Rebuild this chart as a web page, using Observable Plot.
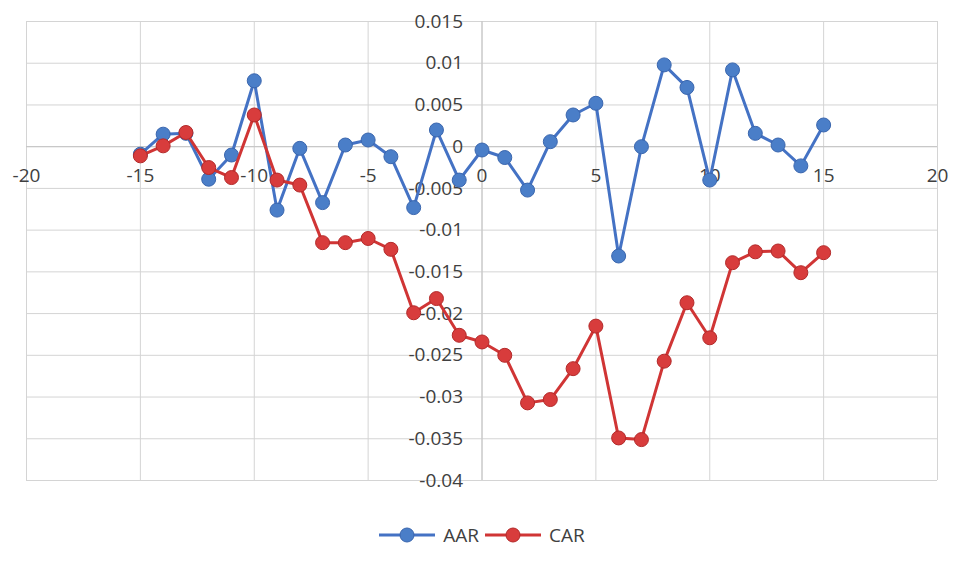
<!DOCTYPE html>
<html><head><meta charset="utf-8">
<script src="https://cdn.jsdelivr.net/npm/d3@7"></script>
<script src="https://cdn.jsdelivr.net/npm/@observablehq/plot@0.6"></script>
<style>
body{margin:0;background:#fff;font-family:"Open Sans",sans-serif;}
#chart svg{display:block;}
#legend{display:flex;justify-content:center;align-items:center;height:60px;font-size:19px;color:#404040;}
.item{display:flex;align-items:center;margin:0 3px;}
.item svg{margin-right:8px;}
</style></head><body>
<div id="chart"></div>
<div id="legend"></div>
<script>
const days = [-15,-14,-13,-12,-11,-10,-9,-8,-7,-6,-5,-4,-3,-2,-1,0,1,2,3,4,5,6,7,8,9,10,11,12,13,14,15];
const aar = [-0.0009,0.0015,0.0016,-0.0039,-0.0010,0.0079,-0.0076,-0.0002,-0.0067,0.0002,0.0008,-0.0012,-0.0073,0.0020,-0.0040,-0.0004,-0.0013,-0.0052,0.0006,0.0038,0.0052,-0.0131,0.0000,0.0098,0.0071,-0.0040,0.0092,0.0016,0.0002,-0.0023,0.0026];
const car = [-0.0011,0.0001,0.0017,-0.0025,-0.0037,0.0038,-0.0040,-0.0046,-0.0115,-0.0115,-0.0110,-0.0123,-0.0199,-0.0182,-0.0226,-0.0234,-0.0250,-0.0307,-0.0303,-0.0266,-0.0215,-0.0349,-0.0351,-0.0257,-0.0187,-0.0229,-0.0139,-0.0126,-0.0125,-0.0151,-0.0127];
const xTicks = [-20,-15,-10,-5,0,5,10,15,20];
const xTickLabels = ["-20","-15","-10","-5","0","5","10","15","20"];
const yTicks = [-0.04,-0.035,-0.03,-0.025,-0.02,-0.015,-0.01,-0.005,0,0.005,0.01,0.015];
const yTickLabels = ["-0.04","-0.035","-0.03","-0.025","-0.02","-0.015","-0.01","-0.005","0","0.005","0.01","0.015"];
const seriesNames = ["AAR","CAR"];
const colors = {AAR:{line:"#4472c4",fill:"#4a7ec8",stroke:"#3a66ae"},CAR:{line:"#d03535",fill:"#d83c3c",stroke:"#b32a2a"}};

const aarRows = days.map((d,i)=>({day:d,v:aar[i]}));
const carRows = days.map((d,i)=>({day:d,v:car[i]}));

const chart = Plot.plot({
  width:964, height:505,
  marginTop:21, marginBottom:25, marginLeft:26, marginRight:27,
  x:{domain:[-20,20], axis:null},
  y:{domain:[-0.04,0.015], axis:null},
  style:{fontFamily:"'Open Sans',sans-serif", fontSize:"19px", background:"#fff", color:"#404040"},
  marks:[
    Plot.gridX(xTicks,{stroke:"#d4d4d4", strokeOpacity:1}),
    Plot.gridY(yTicks,{stroke:"#d4d4d4", strokeOpacity:1}),
    Plot.ruleX([0],{stroke:"#c4c4c4"}),
    Plot.ruleY([0],{stroke:"#c4c4c4"}),
    Plot.text(yTicks,{x:0, y:d=>d, text:(d,i)=>yTickLabels[i], textAnchor:"end", dx:-19, fill:"#404040", fontSize:19}),
    Plot.text(xTicks,{x:d=>d, y:0, text:(d,i)=>xTickLabels[i], dy:29, fill:"#404040", fontSize:19}),
    Plot.line(aarRows,{x:"day", y:"v", stroke:colors.AAR.line, strokeWidth:3}),
    Plot.dot(aarRows,{x:"day", y:"v", r:7, fill:colors.AAR.fill, stroke:colors.AAR.stroke, strokeWidth:1}),
    Plot.line(carRows,{x:"day", y:"v", stroke:colors.CAR.line, strokeWidth:3}),
    Plot.dot(carRows,{x:"day", y:"v", r:7, fill:colors.CAR.fill, stroke:colors.CAR.stroke, strokeWidth:1})
  ]
});
document.getElementById("chart").appendChild(chart);

const legend = document.getElementById("legend");
seriesNames.forEach(name=>{
  const c = colors[name];
  const item = document.createElement("div");
  item.className = "item";
  item.innerHTML = `<svg width="56" height="16"><line x1="0" y1="8" x2="56" y2="8" stroke="${c.line}" stroke-width="3"/><circle cx="28" cy="8" r="7" fill="${c.fill}" stroke="${c.stroke}"/></svg><span>${name}</span>`;
  legend.appendChild(item);
});
</script>
</body></html>
